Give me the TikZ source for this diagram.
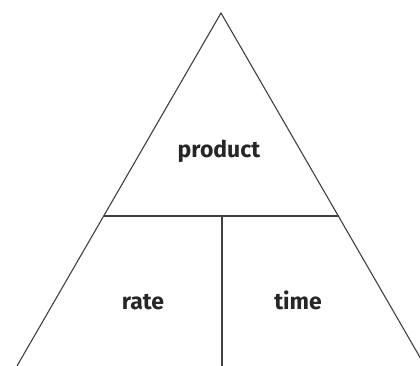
\documentclass[tikz,border=0pt]{standalone}
\usepackage{fontspec}
\setmainfont{Fira Sans}
\begin{document}
\begin{tikzpicture}[x=1pt,y=1pt,
  edge/.style={draw=black!75,line width=1.1pt},
  lbl/.style={font=\fontsize{23}{27}\selectfont\bfseries,text=black!85,anchor=base,inner sep=0pt}]
\useasboundingbox (0,0) rectangle (420,366);
\clip (0,0) rectangle (420,366);
\coordinate (apex) at (221,353);
\coordinate (bl) at (17,0);
\coordinate (br) at (425,0);
\coordinate (ml) at (104,150);
\coordinate (mr) at (339,150);
\coordinate (vt) at (222,150);
\coordinate (vb) at (222,0);
\draw[edge] (bl) -- (apex) -- (br);
\draw[edge] (ml) -- (mr);
\draw[edge] (vt) -- (vb);
\node[lbl] (product) at (219,208) {product};
\node[lbl] (rate) at (143,56) {rate};
\node[lbl] (time) at (298,56) {time};
\end{tikzpicture}
\end{document}
